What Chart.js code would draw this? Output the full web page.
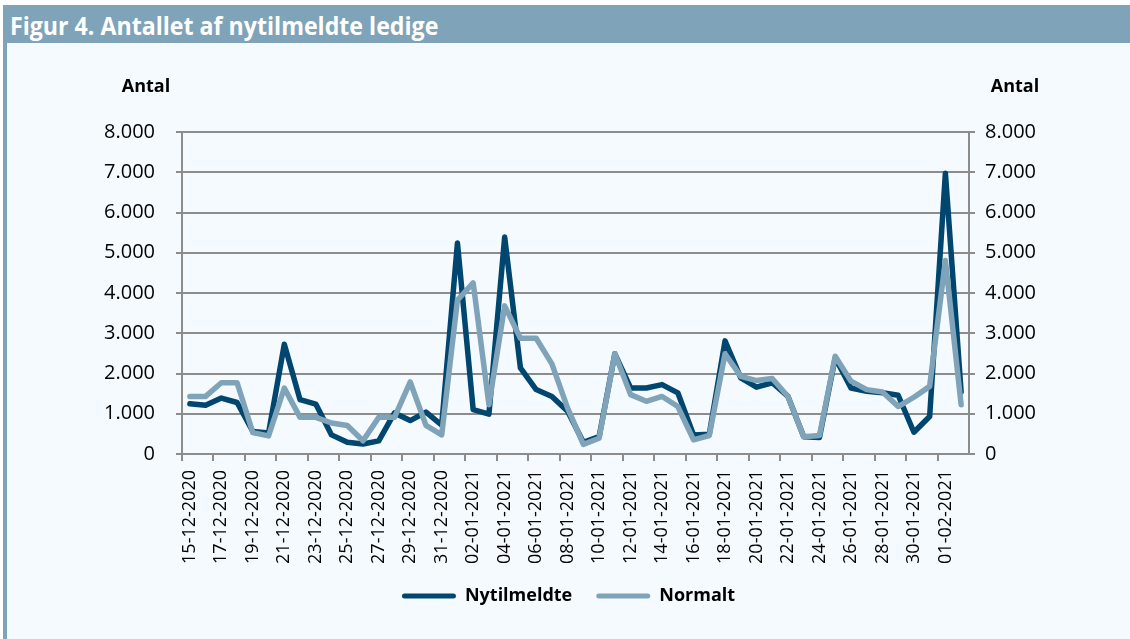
<!DOCTYPE html>
<html>
<head>
<meta charset="utf-8">
<script src="https://cdn.jsdelivr.net/npm/chart.js@4/dist/chart.umd.min.js"></script>
<style>
  html, body { margin: 0; padding: 0; background: #fff; }
  #page { position: relative; width: 1130px; height: 639px; overflow: hidden; background: #fff; }
  #titlebar { position: absolute; left: 3px; top: 5px; width: 1127px; height: 38px; background: #7fa3b8; }
  #titlebar span { position: absolute; left: 7px; top: 3px; color: #fff; font: bold 25px "Open Sans", sans-serif; white-space: nowrap; transform-origin: 0 50%; }
  #leftbar { position: absolute; left: 3px; top: 43px; width: 4px; height: 596px; background: #7fa3b8; }
  #panel { position: absolute; left: 7px; top: 43px; width: 1123px; height: 596px; background: #f5fafe; }
  #chart { position: absolute; left: 0; top: 0; }
</style>
</head>
<body>
<div id="page">
  <div id="titlebar"><span id="title">Figur 4. Antallet af nytilmeldte ledige</span></div>
  <div id="leftbar"></div>
  <div id="panel"><canvas id="chart" width="1123" height="596"></canvas></div>
</div>
<script>
var dates = [
  "15-12-2020", "16-12-2020", "17-12-2020", "18-12-2020", "19-12-2020", "20-12-2020",
  "21-12-2020", "22-12-2020", "23-12-2020", "24-12-2020", "25-12-2020", "26-12-2020",
  "27-12-2020", "28-12-2020", "29-12-2020", "30-12-2020", "31-12-2020", "01-01-2021",
  "02-01-2021", "03-01-2021", "04-01-2021", "05-01-2021", "06-01-2021", "07-01-2021",
  "08-01-2021", "09-01-2021", "10-01-2021", "11-01-2021", "12-01-2021", "13-01-2021",
  "14-01-2021", "15-01-2021", "16-01-2021", "17-01-2021", "18-01-2021", "19-01-2021",
  "20-01-2021", "21-01-2021", "22-01-2021", "23-01-2021", "24-01-2021", "25-01-2021",
  "26-01-2021", "27-01-2021", "28-01-2021", "29-01-2021", "30-01-2021", "31-01-2021",
  "01-02-2021", "02-02-2021"
];
var nytilmeldte = [
  1250, 1210, 1390, 1280, 560, 520, 2725, 1350, 1240, 475, 290, 250, 325, 1020, 830, 1040,
  720, 5240, 1100, 990, 5390, 2140, 1600, 1430, 1060, 290, 430, 2490, 1640, 1640, 1725, 1520,
  475, 490, 2810, 1890, 1660, 1770, 1430, 430, 410, 2390, 1640, 1560, 1520, 1460, 540, 930,
  6975, 1540
];
var normalt = [
  1430, 1430, 1770, 1770, 530, 450, 1640, 910, 910, 770, 710, 330, 910, 910, 1790, 710,
  475, 3825, 4250, 1225, 3680, 2875, 2875, 2240, 1140, 240, 390, 2490, 1475, 1310, 1430, 1180,
  350, 460, 2490, 1930, 1825, 1875, 1430, 430, 460, 2430, 1810, 1600, 1540, 1180, 1410, 1680,
  4810, 1225
];
var yTicks = [0, 1000, 2000, 3000, 4000, 5000, 6000, 7000, 8000];
var axisTitle = "Antal";

var dark = "#00466e";
var light = "#7fa3b8";
var gridGray = "#8c8c8c";
var font = "'Open Sans', 'Liberation Sans', sans-serif";

// squeeze the title to the condensed width of the original
var title = document.getElementById("title");
title.style.transform = "scaleX(" + (428 / title.offsetWidth) + ")";

function fmt(v) {
  return v === 0 ? "0" : (v / 1000) + ".000";
}

var antalPlugin = {
  id: "antal",
  afterDraw: function (chart) {
    var ctx = chart.ctx, a = chart.chartArea;
    ctx.save();
    ctx.font = "bold 18px " + font;
    ctx.fillStyle = "#000";
    ctx.textAlign = "center";
    ctx.textBaseline = "middle";
    ctx.fillText(axisTitle, a.left - 36, a.top - 45);
    ctx.fillText(axisTitle, a.right + 46, a.top - 45);
    ctx.restore();
  }
};

var yAxis = function (pos, width, pad) {
  return {
    position: pos,
    min: 0,
    max: 8000,
    afterBuildTicks: function (s) { s.ticks = yTicks.map(function (v) { return { value: v }; }); },
    afterFit: function (s) { s.width = width; },
    grid: {
      color: gridGray,
      lineWidth: 2,
      tickLength: 6,
      drawOnChartArea: pos === "left"
    },
    border: { display: true, color: gridGray, width: 2 },
    ticks: {
      padding: pad,
      color: "#000",
      font: { size: 20, family: font },
      callback: function (v) { return fmt(v); }
    }
  };
};

new Chart(document.getElementById("chart").getContext("2d"), {
  type: "line",
  data: {
    labels: dates,
    datasets: [
      {
        label: "Nytilmeldte",
        data: nytilmeldte,
        borderColor: dark,
        backgroundColor: dark,
        borderWidth: 5.5,
        order: 2
      },
      {
        label: "Normalt",
        data: normalt,
        borderColor: light,
        backgroundColor: light,
        borderWidth: 5.5,
        order: 1
      }
    ]
  },
  options: {
    responsive: false,
    animation: false,
    layout: { padding: { top: 89, left: 0, right: 0, bottom: 24 } },
    elements: {
      point: { radius: 0 },
      line: { tension: 0, borderJoinStyle: "round", borderCapStyle: "round" }
    },
    scales: {
      x: {
        offset: true,
        afterFit: function (s) { s.height = 109; },
        grid: {
          offset: true,
          drawOnChartArea: false,
          tickLength: 7,
          lineWidth: 2,
          color: function (c) { return c.index % 2 === 0 ? gridGray : "rgba(0,0,0,0)"; }
        },
        border: { display: true, color: gridGray, width: 2 },
        ticks: {
          autoSkip: false,
          minRotation: 90,
          maxRotation: 90,
          padding: 9,
          color: "#000",
          font: { size: 18, family: font },
          callback: function (v, i) { return i % 2 === 0 ? dates[i] : ""; }
        }
      },
      y: yAxis("left", 175, 21),
      y2: yAxis("right", 161, 10)
    },
    plugins: {
      legend: {
        position: "bottom",
        labels: {
          boxWidth: 54,
          boxHeight: 5,
          padding: 24,
          color: "#000",
          font: { size: 18, weight: "bold", family: font },
          sort: function (a, b) { return a.datasetIndex - b.datasetIndex; },
          generateLabels: function (chart) {
            return chart.data.datasets.map(function (d, i) {
              return {
                text: d.label,
                fillStyle: d.borderColor,
                strokeStyle: d.borderColor,
                lineWidth: 0,
                borderRadius: 2.5,
                datasetIndex: i,
                fontColor: "#000"
              };
            });
          }
        }
      },
      tooltip: { enabled: false }
    }
  },
  plugins: [antalPlugin]
});
</script>
</body>
</html>
